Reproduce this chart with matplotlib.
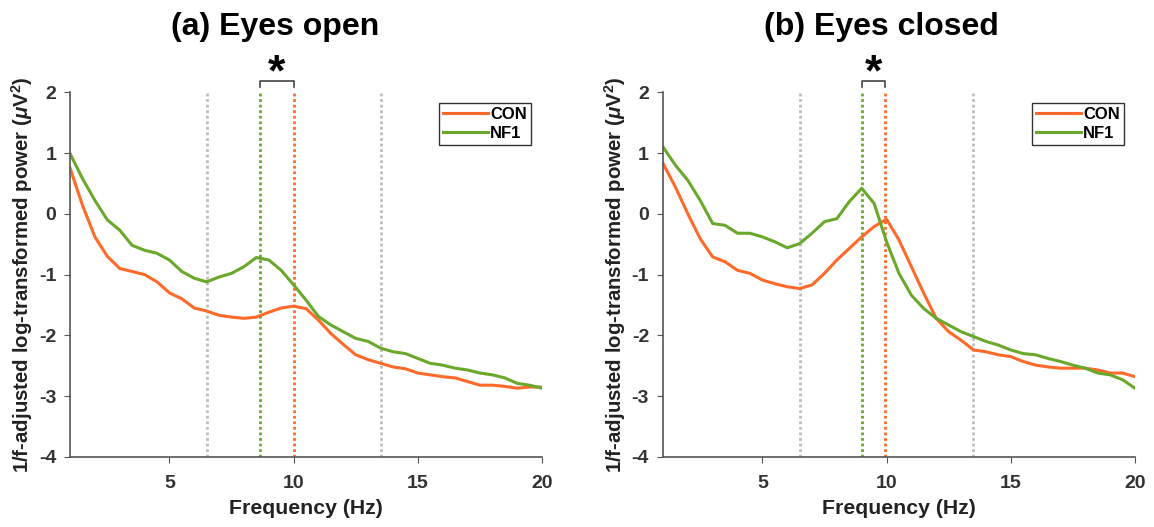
import numpy as np
import matplotlib
matplotlib.use("Agg")
import matplotlib.pyplot as plt

plt.rcParams["font.family"] = ["Liberation Sans", "DejaVu Sans"]
plt.rcParams["axes.unicode_minus"] = False
plt.rcParams["mathtext.fontset"] = "custom"
plt.rcParams["mathtext.it"] = "Liberation Sans:italic:bold"
plt.rcParams["mathtext.rm"] = "Liberation Sans:bold"

freq = np.arange(1, 20.01, 0.5)

# (a) eyes open
open_con = [0.75, 0.14, -0.38, -0.70, -0.90, -0.95, -1.00, -1.12, -1.30, -1.40,
            -1.55, -1.60, -1.67, -1.70, -1.72, -1.70, -1.62, -1.55, -1.52, -1.56,
            -1.75, -1.97, -2.15, -2.32, -2.40, -2.46, -2.52, -2.55, -2.62, -2.65,
            -2.68, -2.70, -2.76, -2.82, -2.82, -2.84, -2.87, -2.85, -2.85]
open_nf1 = [0.99, 0.58, 0.22, -0.10, -0.27, -0.52, -0.60, -0.65, -0.76, -0.95,
            -1.06, -1.12, -1.04, -0.98, -0.87, -0.72, -0.76, -0.93, -1.17, -1.42,
            -1.69, -1.83, -1.94, -2.05, -2.10, -2.21, -2.27, -2.30, -2.38, -2.46,
            -2.49, -2.54, -2.57, -2.62, -2.65, -2.70, -2.79, -2.82, -2.87]

# (b) eyes closed
closed_con = [0.83, 0.44, 0.00, -0.41, -0.71, -0.79, -0.93, -0.98, -1.09, -1.15,
              -1.20, -1.23, -1.17, -0.98, -0.76, -0.57, -0.38, -0.21, -0.09, -0.43,
              -0.87, -1.31, -1.72, -1.94, -2.08, -2.24, -2.27, -2.32, -2.35, -2.43,
              -2.49, -2.52, -2.54, -2.54, -2.54, -2.57, -2.62, -2.62, -2.68]
closed_nf1 = [1.10, 0.80, 0.55, 0.22, -0.16, -0.19, -0.32, -0.32, -0.38, -0.46,
              -0.56, -0.49, -0.32, -0.13, -0.08, 0.20, 0.42, 0.17, -0.46, -0.98,
              -1.34, -1.56, -1.72, -1.83, -1.94, -2.02, -2.10, -2.16, -2.24, -2.30,
              -2.32, -2.38, -2.43, -2.49, -2.54, -2.62, -2.65, -2.73, -2.87]

titles = ["(a) Eyes open", "(b) Eyes closed"]
peak_nf1 = [8.65, 9.0]
peak_con = [10.0, 9.95]
band = [6.5, 13.5]

c_con = "#ff6a2a"
c_nf1 = "#6aa82c"
c_grey = "#bdbdbd"

fig = plt.figure(figsize=(11.54, 5.27), dpi=100)
ax1 = fig.add_axes([0.0607, 0.133, 0.409, 0.692])
ax2 = fig.add_axes([0.5745, 0.133, 0.409, 0.692])

data = [(open_con, open_nf1), (closed_con, closed_nf1)]
for i, ax in enumerate([ax1, ax2]):
    con, nf1 = data[i]
    for b in band:
        ax.axvline(b, color=c_grey, ls=(0, (1, 1)), lw=2)
    ax.axvline(peak_nf1[i], color=c_nf1, ls=(0, (1, 1)), lw=2)
    ax.axvline(peak_con[i], color=c_con, ls=(0, (1, 1)), lw=2)
    ax.plot(freq, con, color=c_con, lw=2.2, label="CON")
    ax.plot(freq, nf1, color=c_nf1, lw=2.2, label="NF1")

    # significance bracket
    ax.plot([peak_nf1[i], peak_nf1[i], peak_con[i], peak_con[i]],
            [2.08, 2.18, 2.18, 2.08], color="#444444", lw=1.2, clip_on=False)
    ax.text((peak_nf1[i] + peak_con[i]) / 2, 2.30, "*", ha="center", va="center",
            fontsize=32, fontweight="bold")

    ax.set_xlim(1, 20)
    ax.set_ylim(-4, 2)
    ax.set_xticks([5, 10, 15, 20])
    ax.set_yticks([-4, -3, -2, -1, 0, 1, 2])
    for s in ["top", "right"]:
        ax.spines[s].set_visible(False)
    for s in ["left", "bottom"]:
        ax.spines[s].set_color("#555555")
        ax.spines[s].set_linewidth(1.2)
    ax.tick_params(direction="out", length=4, color="#555555", labelsize=14)
    ax.tick_params(axis="x", pad=9)
    ax.tick_params(axis="y", pad=6)
    for lab in ax.get_xticklabels() + ax.get_yticklabels():
        lab.set_fontweight("bold")
        lab.set_color("#333333")
    ax.set_xlabel("Frequency (Hz)", fontsize=15.3, fontweight="bold", color="#222222",
                  labelpad=5)
    ax.set_ylabel(r"1/f-adjusted log-transformed power ($\mu$V$^2$)", fontsize=14.7,
                  fontweight="bold", color="#222222", labelpad=3)
    leg = ax.legend(loc="upper right", bbox_to_anchor=(0.977, 0.97), borderaxespad=0,
                    fancybox=False, edgecolor="#333333", framealpha=1, handlelength=2.7,
                    prop={"weight": "bold", "size": 12}, borderpad=0.25, labelspacing=0.2,
                    handletextpad=0.15)
    leg.get_frame().set_linewidth(1.0)

fig.text(0.238, 0.948, titles[0], ha="center", va="center", fontsize=23, fontweight="bold")
fig.text(0.764, 0.948, titles[1], ha="center", va="center", fontsize=23, fontweight="bold")

fig.savefig("out.png", dpi=100)
